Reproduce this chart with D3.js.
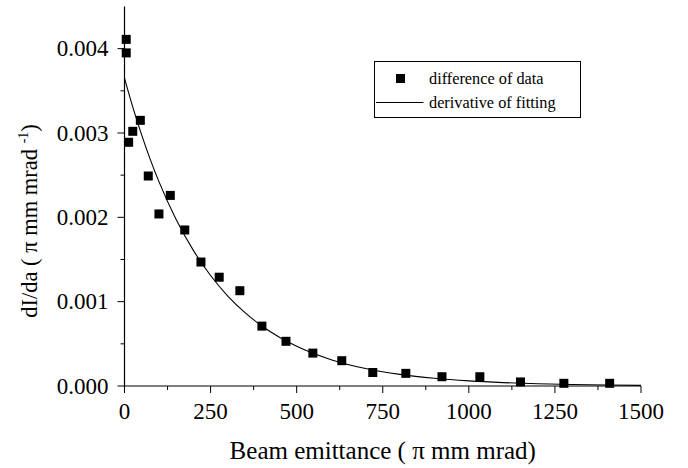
<!DOCTYPE html>
<html>
<head>
<meta charset="utf-8">
<script src="https://cdn.jsdelivr.net/npm/d3@7/dist/d3.min.js"></script>
<style>
  html, body { margin: 0; padding: 0; background: #fff; }
  svg { display: block; }
  svg text { font-family: 'Liberation Serif', 'Times New Roman', Times, 'DejaVu Serif', serif; }
</style>
</head>
<body>
<svg id="chart" width="688" height="468"></svg>
<script>
// ---- data ----
const dataX = [5, 5, 12, 24, 46, 69, 100, 133, 175, 222, 275, 335, 399, 469, 547, 631, 721, 817, 922, 1032, 1150, 1276, 1409];
const dataY = [0.00411, 0.00395, 0.00289, 0.00302, 0.00315, 0.00249, 0.00204, 0.00226, 0.00185, 0.00147, 0.00129, 0.00113, 0.00071, 0.00053, 0.00039, 0.00030, 0.00016, 0.00015, 0.00011, 0.00011, 0.000048, 0.000032, 0.000032];
const fitX = [0, 25, 50, 75, 100, 150, 200, 250, 300, 350, 400, 450, 500, 600, 700, 800, 900, 1000, 1100, 1200, 1300, 1400, 1500];
const fitY = [0.00365, 0.003294, 0.002974, 0.002684, 0.002423, 0.001974, 0.001608, 0.00131, 0.001067, 0.00087, 0.000708, 0.000577, 0.00047, 0.000312, 0.000207, 0.0001375, 0.0000913, 0.0000606, 0.0000402, 0.0000267, 0.0000177, 0.0000118, 0.0000078];
const xTicks = [0, 250, 500, 750, 1000, 1250, 1500];
const yTicks = [0, 0.001, 0.002, 0.003, 0.004];
const legendLabels = ["difference of data", "derivative of fitting"];

const FONT = "Liberation Serif";
const svg = d3.select("#chart");
const x = d3.scaleLinear().domain([0, 1500]).range([124.5, 641]);
const y = d3.scaleLinear().domain([0, 0.0045]).range([386, 6.5]);

// minor ticks
const xMinor = d3.range(125, 1500, 250);
const yMinor = d3.range(0.0005, 0.004, 0.001);

// x axis
const gx = svg.append("g").attr("transform", `translate(0,${y(0)})`);
gx.append("line").attr("x1", x(0)).attr("x2", x(1500)).attr("stroke", "#000").attr("stroke-width", 1.2);
gx.selectAll(".xt").data(xTicks).join("line")
  .attr("x1", d => x(d)).attr("x2", d => x(d)).attr("y1", 0).attr("y2", 7)
  .attr("stroke", "#000").attr("stroke-width", 1);
gx.selectAll(".xm").data(xMinor).join("line")
  .attr("x1", d => x(d)).attr("x2", d => x(d)).attr("y1", 0).attr("y2", 4)
  .attr("stroke", "#000").attr("stroke-width", 1);
gx.selectAll("text").data(xTicks).join("text")
  .attr("font-family", FONT)
  .attr("x", d => x(d)).attr("y", 32.5)
  .attr("text-anchor", "middle").attr("font-size", 23).text(d => d);

// y axis
const gy = svg.append("g").attr("transform", `translate(${x(0)},0)`);
gy.append("line").attr("y1", y(0)).attr("y2", y(0.0045)).attr("stroke", "#000").attr("stroke-width", 1.2);
gy.selectAll(".yt").data(yTicks).join("line")
  .attr("y1", d => y(d)).attr("y2", d => y(d)).attr("x1", 0).attr("x2", -7)
  .attr("stroke", "#000").attr("stroke-width", 1);
gy.selectAll(".ym").data(yMinor).join("line")
  .attr("y1", d => y(d)).attr("y2", d => y(d)).attr("x1", 0).attr("x2", -4)
  .attr("stroke", "#000").attr("stroke-width", 1);
gy.selectAll("text").data(yTicks).join("text")
  .attr("font-family", FONT)
  .attr("x", -16).attr("y", d => y(d)).attr("dy", "0.34em")
  .attr("text-anchor", "end").attr("font-size", 23).text(d => d3.format(".3f")(d));

// axis titles
svg.append("text").attr("font-family", FONT).attr("x", (x(0) + x(1500)) / 2).attr("y", 459)
  .attr("text-anchor", "middle").attr("font-size", 25)
  .text("Beam emittance ( \u03c0 mm mrad)");
const yl = svg.append("text").attr("font-family", FONT).attr("transform", "translate(37,221) rotate(-90)")
  .attr("text-anchor", "middle").attr("font-size", 22.5);
yl.append("tspan").text("dI/da ( \u03c0 mm mrad ");
yl.append("tspan").attr("font-size", 14).attr("dy", -9).text("-1");
yl.append("tspan").attr("dy", 9).text(")");

// fit curve
const line = d3.line().x((d, i) => x(fitX[i])).y((d, i) => y(fitY[i])).curve(d3.curveMonotoneX);
svg.append("path").datum(fitY).attr("d", line)
  .attr("fill", "none").attr("stroke", "#000").attr("stroke-width", 1.1);

// data markers
const ms = 9;
svg.selectAll(".pt").data(dataX).join("rect")
  .attr("x", (d, i) => x(d) - ms / 2).attr("y", (d, i) => y(dataY[i]) - ms / 2)
  .attr("width", ms).attr("height", ms).attr("fill", "#000");

// legend
const lg = svg.append("g");
lg.append("rect").attr("x", 374.5).attr("y", 61.5).attr("width", 206).attr("height", 56)
  .attr("fill", "#fff").attr("stroke", "#000").attr("stroke-width", 1);
lg.append("rect").attr("x", 400.5 - ms / 2).attr("y", 78.5 - ms / 2).attr("width", ms).attr("height", ms).attr("fill", "#000");
lg.append("line").attr("x1", 376).attr("x2", 423.5).attr("y1", 102.5).attr("y2", 102.5).attr("stroke", "#000").attr("stroke-width", 1);
lg.selectAll("text").data(legendLabels).join("text")
  .attr("font-family", FONT)
  .attr("x", 429).attr("y", (d, i) => 78.5 + i * 24).attr("dy", "0.34em")
  .attr("font-size", 16.3).text(d => d);
</script>
</body>
</html>
